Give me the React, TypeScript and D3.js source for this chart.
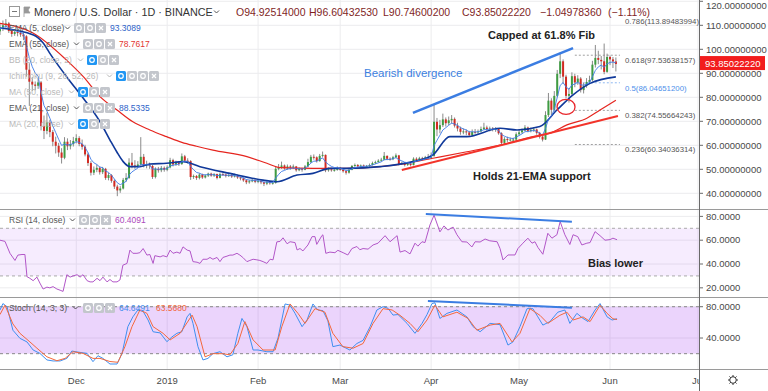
import React from "react";
import * as d3 from "d3";

// day 0 = 2018-11-05, one candle per day up to 2019-06-03
const START = Date.UTC(2018, 10, 5);
const DAY = 864e5;
const FIRST_OPEN = 107.5;

const closes = [
  108.5, 110.0, 110.8, 107.6, 106.4, 107.2, 106.8,
  106.2, 105.4, 91.5, 86.5, 85.3, 84.8, 86.2,
  68.0, 66.0, 69.5, 65.5, 61.5, 59.8, 57.0,
  54.8, 61.5, 59.6, 60.5, 61.8, 63.0, 60.6,
  59.4, 56.2, 52.6, 48.6, 49.8, 50.6, 48.8,
  50.2, 46.4, 47.6, 45.2, 42.8, 41.2, 42.0,
  45.6, 46.4, 52.8, 51.6, 51.4, 52.0, 55.2,
  51.6, 52.0, 51.4, 46.8, 50.2, 49.6, 50.6,
  49.8, 50.8, 53.8, 52.0, 52.8, 52.2, 55.4,
  53.6, 53.4, 46.8, 47.2, 46.4, 47.8, 46.6,
  47.4, 48.2, 47.4, 48.0, 46.4, 48.0, 47.8,
  47.2, 47.6, 47.0, 47.4, 46.6, 46.2, 45.4,
  44.6, 45.0, 45.4, 44.8, 45.2, 44.6, 44.0,
  44.6, 44.2, 44.4, 50.2, 50.8, 51.6, 50.4,
  51.2, 50.8, 51.2, 49.6, 50.2, 49.8, 51.2,
  53.0, 55.2, 55.0, 53.4, 55.6, 56.0, 49.6,
  50.0, 49.6, 49.8, 50.6, 49.8, 49.2, 48.6,
  49.8, 51.4, 51.8, 51.2, 51.6, 51.4, 51.4,
  51.8, 52.6, 53.0, 53.6, 54.0, 55.6, 54.4,
  54.2, 55.0, 55.8, 52.2, 52.6, 51.8, 52.4,
  51.8, 54.4, 53.8, 54.6, 54.4, 55.0, 54.8,
  55.6, 69.8, 66.6, 68.4, 70.8, 69.2, 70.4,
  71.0, 68.2, 67.0, 65.6, 65.8, 65.4, 64.2,
  65.6, 65.4, 65.8, 66.8, 67.4, 66.8, 67.0,
  66.6, 66.8, 65.0, 61.0, 62.6, 62.2, 62.4,
  62.4, 64.6, 65.4, 66.2, 67.4, 66.0, 66.4,
  66.6, 65.2, 63.6, 62.4, 72.6, 78.6, 74.8,
  80.6, 89.8, 95.0, 88.6, 80.6, 81.4, 88.8,
  86.2, 87.8, 83.0, 84.8, 86.4, 87.2, 93.6,
  96.4, 95.6, 95.0, 90.6, 96.8, 95.8, 94.93,
  93.85,
];

const highs = [
  111.0, 112.0, 112.6, 111.4, 108.6, 108.4, 108.2,
  107.9, 107.0, 105.9, 94.2, 88.4, 86.6, 87.8,
  86.8, 72.4, 73.6, 70.6, 66.4, 63.6, 61.0,
  58.8, 63.4, 62.9, 62.2, 63.5, 64.6, 63.8,
  62.4, 60.2, 57.0, 53.4, 51.2, 52.0, 51.2,
  51.0, 50.6, 48.6, 48.0, 45.8, 43.6, 43.0,
  46.4, 48.4, 54.6, 56.8, 53.8, 53.4, 63.4,
  56.4, 53.6, 52.8, 51.8, 50.8, 51.0, 51.4,
  51.2, 51.6, 54.8, 54.4, 53.6, 53.4, 56.6,
  56.0, 54.6, 53.8, 47.8, 47.6, 48.4, 48.2,
  47.9, 48.6, 48.6, 48.4, 48.2, 48.6, 48.8,
  48.2, 48.6, 48.0, 48.2, 47.8, 47.0, 46.6,
  45.8, 45.6, 46.2, 45.8, 45.6, 45.6, 44.8,
  45.2, 45.0, 45.0, 51.0, 52.2, 53.2, 52.0,
  52.0, 51.8, 52.0, 51.4, 50.8, 50.6, 51.8,
  54.4, 56.0, 56.2, 55.4, 56.4, 57.4, 56.2,
  50.8, 50.6, 50.4, 51.2, 51.0, 50.2, 49.6,
  50.4, 51.8, 52.4, 52.2, 52.0, 52.0, 51.8,
  52.4, 53.2, 53.6, 54.2, 54.8, 57.2, 55.8,
  55.0, 55.6, 56.6, 56.0, 53.2, 53.0, 53.0,
  52.8, 55.0, 55.0, 55.2, 55.2, 55.6, 56.4,
  57.0, 77.0, 71.4, 70.6, 73.2, 71.6, 72.0,
  72.6, 71.6, 69.4, 67.8, 67.0, 66.6, 66.0,
  66.6, 66.8, 66.6, 67.8, 69.4, 68.2, 67.8,
  67.6, 67.6, 67.2, 65.4, 63.4, 63.6, 63.2,
  63.2, 65.4, 66.4, 67.0, 68.4, 67.8, 67.4,
  67.6, 67.0, 65.6, 64.0, 74.2, 81.8, 79.6,
  82.6, 91.4, 98.6, 95.8, 89.4, 83.8, 90.4,
  89.8, 89.2, 88.4, 86.0, 88.0, 89.0, 95.2,
  101.8, 99.4, 97.2, 102.4, 98.2, 97.4, 96.8,
  96.6,
];

const lows = [
  106.0, 107.6, 108.9, 106.8, 105.2, 105.6, 105.4,
  105.2, 103.8, 88.6, 76.4, 82.6, 82.9, 83.5,
  66.2, 62.6, 64.6, 63.4, 59.6, 56.6, 55.2,
  52.4, 54.2, 58.0, 58.3, 59.5, 60.8, 59.6,
  58.2, 55.4, 51.4, 47.4, 47.6, 48.8, 47.8,
  48.0, 45.6, 45.4, 44.4, 41.8, 38.8, 40.2,
  41.6, 44.8, 46.0, 50.4, 50.2, 50.6, 51.6,
  50.8, 50.4, 50.2, 46.0, 46.2, 48.6, 48.8,
  49.0, 49.2, 50.4, 51.2, 51.4, 51.4, 51.8,
  53.0, 52.4, 45.6, 46.0, 45.6, 45.8, 46.0,
  46.2, 46.8, 46.9, 46.8, 45.8, 46.2, 47.2,
  46.6, 46.8, 46.4, 46.6, 46.0, 45.4, 44.8,
  43.8, 44.0, 44.6, 44.2, 44.2, 43.8, 43.0,
  43.4, 43.6, 43.6, 44.0, 49.6, 50.2, 49.8,
  49.8, 49.8, 50.2, 49.0, 49.2, 49.0, 49.6,
  50.8, 52.6, 54.0, 52.8, 53.2, 55.0, 48.8,
  49.0, 49.0, 49.0, 49.4, 49.4, 48.6, 47.8,
  48.2, 49.6, 51.0, 50.8, 50.8, 51.0, 50.8,
  51.0, 51.6, 52.2, 52.8, 53.2, 53.8, 53.8,
  53.6, 53.8, 54.6, 51.6, 51.8, 51.2, 51.4,
  51.2, 51.6, 53.2, 53.4, 53.8, 54.0, 54.2,
  54.6, 55.2, 63.8, 65.0, 67.6, 67.8, 68.4,
  69.0, 67.4, 65.8, 64.4, 64.6, 64.2, 63.6,
  63.8, 64.8, 64.6, 65.4, 66.4, 66.0, 65.8,
  65.8, 65.6, 64.4, 59.8, 60.4, 61.4, 61.6,
  61.4, 62.0, 64.0, 64.8, 65.8, 65.4, 65.4,
  65.6, 64.4, 62.8, 61.6, 62.2, 71.8, 72.6,
  74.2, 80.0, 88.0, 85.6, 79.6, 77.8, 80.8,
  84.2, 85.2, 82.0, 81.6, 84.0, 85.6, 86.6,
  92.4, 93.8, 91.6, 89.6, 90.2, 93.4, 92.2,
  90.75,
];

// [day, value] readings of the indicator lines
const ema21 = [
  [0, 108.9], [11.4, 106], [14.8, 102.5], [17, 98.3], [22.7, 88.6], [28.4, 79.6],
  [34.1, 69.8], [37.5, 62.2], [39.8, 57.3], [42, 53.2], [44.3, 51.1], [47.7, 51.1],
  [51.1, 52.2], [56.8, 52.5], [62.5, 53.2], [68.2, 51.1], [78.4, 48.3], [89.7, 45.5],
  [94.4, 44.8], [101.3, 47.6], [106.7, 48.3], [112.5, 50.4], [118.3, 50.4], [129.6, 51.1],
  [140.8, 53.2], [147.6, 56], [153.4, 63.6], [159.2, 63.6], [170.5, 67.1], [176.3, 66.4],
  [184.1, 67.8], [189.9, 74.7], [195.4, 81], [201.2, 85.8], [210, 88.5],
];

const ema55 = [
  [0, 110.8], [11.4, 106.7], [22.7, 95.5], [28.4, 88.6], [34.1, 80.3], [39.9, 74.7],
  [45.3, 69.8], [51.1, 66.4], [56.8, 63.6], [62, 61.2], [67, 59.6], [72.6, 58],
  [84.2, 55.3], [91, 52.5], [95.5, 50.7], [106.7, 50.4], [118.3, 50.4], [129.6, 51.1],
  [138, 52.4], [147.6, 54.6], [159.2, 57.3], [170.5, 60.1], [181.7, 63.6], [187.5, 65],
  [193.3, 68.5], [200.1, 71.3], [204.6, 74.7], [210, 78.8],
];

const rsi = [
  [0, 60], [1.7, 59], [3.4, 49], [5.1, 43], [6.1, 47.5], [7.5, 48], [8.5, 48], [9.2, 29.4],
  [10.2, 28], [11.3, 26], [12.6, 29], [13.6, 24], [14.7, 19], [16, 20.6], [17, 20], [18.1, 21],
  [19.4, 19], [20.5, 18], [21.5, 17], [22.8, 31], [23.9, 29], [24.9, 30], [26.3, 31], [27.3, 29],
  [28.3, 31], [29.7, 26], [30.7, 25], [31.7, 25], [33.1, 28], [34.1, 26], [35.1, 29], [36.5, 25],
  [37.5, 27], [38.5, 25], [39.9, 25], [40.9, 26.6], [41.9, 39], [43.3, 40.5], [44.3, 51.7],
  [45.3, 49], [46.7, 49], [47.7, 49.5], [48.8, 53], [50.1, 47.5], [51.1, 48], [52.2, 40.5],
  [52.8, 47], [54.6, 46], [55.6, 47], [56.9, 46], [58, 51.7], [59, 49], [60.3, 50], [61.4, 49],
  [62.4, 54.4], [63.8, 51.7], [64.8, 51], [65.8, 42], [67.2, 41.5], [68.2, 40.5], [69.2, 44],
  [70.6, 44], [71.6, 45.5], [72.6, 44], [74, 45.5], [75, 42], [76, 45.5], [77.4, 46.6],
  [78.4, 47.5], [79.4, 47.5], [80.8, 49], [81.8, 47.5], [82.8, 45.5], [84.2, 42], [85.2, 43],
  [86.3, 44], [87.6, 43.5], [88.6, 43], [89.7, 42], [91, 40.5], [92.1, 44], [93.1, 43.5],
  [94.4, 58.6], [95.5, 59], [96.5, 62], [97.9, 57], [98.9, 58.7], [100.6, 58], [101.3, 51.8],
  [102.3, 53], [103.3, 51], [105, 56], [106.4, 63], [107.4, 63], [108, 56.5], [109.8, 64],
  [110.1, 64.5], [111.1, 49], [112.5, 50], [114.2, 49.5], [115.2, 51.5], [117, 49.5],
  [118.6, 47.6], [120, 53], [121.7, 54.7], [122.7, 52], [123.8, 53], [125.5, 52.5], [127.2, 56],
  [128.9, 57.5], [131.3, 63.8], [133, 58.7], [135.4, 63.8], [136.4, 50], [138.1, 51.3],
  [139.8, 48.5], [141.5, 57.5], [142.5, 55], [143.9, 58.7], [144.9, 58], [146.6, 72.8], [148, 81],
  [150, 67], [151.4, 72], [152.7, 68.5], [154.5, 71], [155.8, 64.6], [157.5, 58.7], [159.2, 58.5],
  [160.9, 54.3], [162, 58.7], [163.7, 58.5], [165.4, 61], [167, 59.5], [169.5, 58.7], [170.5, 53],
  [171.5, 43.4], [173.2, 47.6], [175.6, 47.6], [176.6, 53], [178.3, 57.5], [180, 61.7],
  [181.4, 57.5], [182.4, 58.7], [183.4, 54], [185.1, 48.2], [186.8, 65.8], [188.2, 61.7],
  [189.9, 64.6], [191, 75.6], [192.6, 64.6], [194.3, 56.4], [195.4, 64.6], [197, 63], [198.4, 56],
  [200.1, 57.5], [201.2, 58], [202.9, 67.2], [204.6, 63.8], [206.3, 60], [208, 60.5], [209, 61.7],
  [210.4, 60.4],
];

const stochK = [
  [0, 75.8], [1, 84], [2.4, 80], [4.4, 50], [6.8, 39.6], [9.2, 35], [11.3, 24.7], [13.6, 20.4],
  [16, 12], [18.1, 10.7], [20.5, 10.7], [22.8, 14], [24.5, 23.4], [26.6, 22], [29.7, 20.4],
  [31.7, 9.8], [33.4, 17.4], [35.1, 14], [37.5, 6.8], [39.9, 6.8], [41.6, 20], [43.6, 54.5],
  [45.3, 67], [47, 75.8], [48.8, 74], [50.5, 63], [52.2, 48], [54.6, 46.5], [56.9, 35.3],
  [58.6, 41.3], [60.3, 46], [62, 48], [63.8, 67], [64.8, 71.5], [65.8, 58.7], [67.5, 29],
  [69.2, 12], [70.9, 14], [72.6, 20], [75, 22.5], [77.4, 16], [79.4, 18.6], [81.1, 46],
  [82.5, 65], [84.2, 54.5], [86.3, 24.7], [88, 24.7], [91, 22.5], [93.1, 22.5], [94.8, 40],
  [97.2, 83.5], [98.9, 82], [100.6, 71.5], [103, 54.5], [104.7, 63], [106.7, 83.5], [108.4, 75.8],
  [110.1, 75], [111.8, 62], [113.5, 29], [115.9, 31], [119.3, 24.7], [121.7, 33], [123.8, 37],
  [126.2, 54.5], [128.5, 75.8], [130.6, 80], [132.3, 78], [134, 69.3], [135.7, 70], [138.8, 58.7],
  [141.5, 46], [143.9, 58.7], [145.6, 70], [147.3, 84], [148.3, 85], [150, 65], [152.4, 71.5],
  [155.8, 75.8], [159.2, 67], [161.3, 54.5], [163.7, 48], [167.1, 58.7], [170.5, 57], [173.2, 31],
  [174.9, 35], [177.3, 54.5], [179.7, 77.5], [181.7, 77.5], [183.4, 67], [185.1, 56.5], [187.5, 61],
  [190.2, 73], [192.6, 75.8], [194.3, 58.7], [196.7, 71.5], [198.8, 65], [200.5, 61], [202.9, 75.8],
  [204.6, 84], [207, 67], [208.7, 63], [210.4, 64.6],
];

const stochD = [
  [0, 70], [1.7, 82], [4.4, 58], [6.8, 46], [10.2, 35], [12.6, 27], [16, 16], [19.4, 11],
  [22.2, 14], [24.9, 22.5], [28.3, 20.4], [31.7, 14], [34.1, 14], [37.5, 10], [40.2, 9],
  [42.6, 29], [45, 54.5], [47.7, 75.8], [50.1, 71.5], [52.2, 54.5], [55.6, 46], [58, 37.6],
  [61.4, 46], [65.5, 69.3], [67.2, 54.5], [69.9, 16], [72.6, 20], [75.7, 20], [78.4, 18.6],
  [81.1, 33], [83.5, 61], [86.3, 37.6], [89.7, 24.7], [93.8, 24.7], [96.1, 54.5], [98.9, 83.5],
  [101.6, 71.5], [104, 58.7], [107.4, 77.5], [110.8, 73], [113.5, 46], [116.9, 29], [120.4, 27],
  [123.8, 33], [127.2, 58.7], [130.6, 77.5], [133.7, 75.8], [136.4, 69], [139.8, 58.7], [142.5, 48],
  [145.6, 63], [148.3, 82], [151, 67], [155.8, 73], [159.6, 65], [162.6, 50], [167.1, 56.5],
  [170.5, 58.7], [174.6, 35], [177.3, 46], [180.7, 77.5], [184.1, 69], [186.8, 58.7], [190.9, 69],
  [193.3, 73], [195.4, 63], [198.8, 67], [201.2, 61], [204.6, 82], [207, 71.5], [209, 64.6],
  [210.4, 63.6],
];

const monthTicks = ["2018-12-01", "2019-01-01", "2019-02-01", "2019-03-01", "2019-04-01", "2019-05-01", "2019-06-01", "2019-07-01"];
const monthLabels = ["Dec", "2019", "Feb", "Mar", "Apr", "May", "Jun", "Jul"];
const priceTicks = [40, 50, 60, 70, 80, 90, 100, 110, 120];
const rsiTicks = [20, 40, 60, 80];
const stochTicks = [40, 80];

const fibLevels = ["0.786", "0.618", "0.5", "0.382", "0.236"];
const fibPrices = [113.89483994, 97.53638157, 86.04651200, 74.55664243, 60.34036314];

const lastPrice = 93.85022220;
const ohlc = ["O94.92514000", "H96.60432530", "L90.74600200", "C93.85022220", "\u22121.04978360", "(\u22121.11%)"];

const legendRows = [
  { name: "EMA (5, close)", value: "93.3089", color: "#2c62c8", faded: false, blue: false },
  { name: "EMA (55, close)", value: "78.7617", color: "#e3342f", faded: false, blue: false },
  { name: "BB (20, close, 2)", value: "", color: "", faded: true, blue: true },
  { name: "Ichimoku (9, 26, 52, 26)", value: "", color: "", faded: true, blue: true },
  { name: "MA (50, close)", value: "", color: "", faded: true, blue: true },
  { name: "EMA (21, close)", value: "88.5335", color: "#2c62c8", faded: false, blue: false },
  { name: "MA (20, close)", value: "", color: "", faded: true, blue: true },
];
const legendIconX = [74, 83, 87, 116, 78, 83, 78];

const FONT = "'Liberation Sans', Arial, sans-serif";
const PR = 699;
const MAIN = [0, 209];
const RSI = [209, 297];
const STO = [297, 369];

const toDate = (d: number) => new Date(START + d * DAY);

function Icons({ x, y, n, firstBlue }: { x: number; y: number; n: number; firstBlue: boolean }) {
  return (
    <g>
      {d3.range(n).map((i) => {
        const blue = firstBlue && i === 0;
        return (
          <g key={i}>
            <rect x={x + i * 11} y={y - 5} width={10} height={10} rx={1.5} fill={blue ? "#2196f3" : "#c3c6cc"} />
            {i === n - 1 ? (
              <path d={`M${x + i * 11 + 3},${y - 2}l4,4M${x + i * 11 + 7},${y - 2}l-4,4`} stroke="#fff" strokeWidth={1.2} />
            ) : (
              <circle cx={x + i * 11 + 5} cy={y} r={2.3} fill="none" stroke="#fff" strokeWidth={1.2} />
            )}
          </g>
        );
      })}
    </g>
  );
}

function Chevron({ x, y, color }: { x: number; y: number; color: string }) {
  return <path d={`M${x},${y - 1.5}l2.5,2.5l2.5,-2.5`} fill="none" stroke={color} strokeWidth={1} />;
}

export default function App() {
  const x = d3.scaleUtc().domain([new Date(START), new Date(Date.UTC(2019, 6, 1))]).range([0, 698]);
  const dx = (d: number) => x(toDate(d));
  const y = d3.scaleLinear().domain([33.46, 120.54]).range([MAIN[1], MAIN[0]]);
  const yr = d3.scaleLinear().domain([12.3, 86.2]).range([RSI[1], RSI[0]]);
  const ys = d3.scaleLinear().domain([0.43, 92.4]).range([STO[1], STO[0]]);

  let e = closes[0];
  const ema5 = closes.map((c, i) => (i === 0 ? c : (e = e + (2 / 6) * (c - e))));

  const smooth = (sc: d3.ScaleLinear<number, number>) =>
    d3.line<number[]>().x((p) => dx(p[0])).y((p) => sc(p[1])).curve(d3.curveMonotoneX);
  const jag = (sc: d3.ScaleLinear<number, number>) =>
    d3.line<number[]>().x((p) => dx(p[0])).y((p) => sc(p[1]));
  const ema5Line = d3.line<number>().x((_, i) => dx(i)).y((v) => y(v))(ema5);

  const months = monthTicks.map((m) => x(new Date(m + "T00:00:00Z")));
  const grid = "#ececee";
  const axisText = "#4a4a4a";

  // drawn annotations, anchored in (day, value)
  const blueTrend = [[140.8, 73.5], [195.4, 100.5]];
  const redTrend = [[137, 49.7], [210.7, 72.2]];
  const rsiTrend = [[145.2, 82], [195, 75.5]];
  const stochTrend = [[145.9, 87.3], [195, 78.7]];
  const circleAt = [193, 76];

  return (
    <svg width={768} height={391} style={{ position: "absolute", left: 0, top: 0, background: "#fff" }} fontFamily={FONT}>
      <defs>
        <clipPath id="cMain"><rect x={0} y={MAIN[0]} width={PR} height={MAIN[1] - MAIN[0]} /></clipPath>
        <clipPath id="cRsi"><rect x={0} y={RSI[0]} width={PR} height={RSI[1] - RSI[0]} /></clipPath>
        <clipPath id="cSto"><rect x={0} y={STO[0]} width={PR} height={STO[1] - STO[0]} /></clipPath>
        <clipPath id="cAxis"><rect x={0} y={369} width={PR} height={22} /></clipPath>
      </defs>

      {/* grid */}
      {months.map((mx, i) => (
        <line key={"vg" + i} x1={mx} x2={mx} y1={0} y2={369} stroke={grid} />
      ))}
      {priceTicks.map((t) => (
        <line key={"hg" + t} x1={0} x2={PR} y1={y(t)} y2={y(t)} stroke={grid} />
      ))}
      {rsiTicks.map((t) => (
        <line key={"rg" + t} x1={0} x2={PR} y1={yr(t)} y2={yr(t)} stroke={grid} />
      ))}
      {stochTicks.map((t) => (
        <line key={"sg" + t} x1={0} x2={PR} y1={ys(t)} y2={ys(t)} stroke={grid} />
      ))}

      {/* main pane */}
      <g clipPath="url(#cMain)">
        {fibLevels.map((lv, i) =>
          i === 0 ? null : (
            <line key={lv} x1={dx(196)} x2={dx(211.4)} y1={y(fibPrices[i])} y2={y(fibPrices[i])}
              stroke={lv === "0.5" ? "#8fb8f2" : "#a0a0a0"} strokeDasharray="2,2" />
          )
        )}
        {closes.map((c, i) => {
          const o = i === 0 ? FIRST_OPEN : closes[i - 1];
          const cx = dx(i);
          const up = c >= o;
          const top = y(Math.max(o, c));
          const h = Math.max(1, Math.abs(y(o) - y(c)));
          return (
            <g key={"c" + i}>
              <line x1={cx} x2={cx} y1={y(highs[i])} y2={y(lows[i])} stroke="#8a8a8a" />
              <rect x={cx - 1} y={top} width={2} height={h} fill={up ? "#3f9c42" : "#d22a22"} />
            </g>
          );
        })}
        <path d={smooth(y)(ema55) || ""} fill="none" stroke="#e5251f" strokeWidth={1.2} />
        <path d={smooth(y)(ema21) || ""} fill="none" stroke="#10399a" strokeWidth={1.6} />
        <path d={ema5Line || ""} fill="none" stroke="#3d7be6" strokeWidth={0.9} />
        <path d={jag(y)(redTrend) || ""} stroke="#f2332a" strokeWidth={2} />
        <path d={jag(y)(blueTrend) || ""} stroke="#3b7de2" strokeWidth={2.6} />
        <ellipse cx={dx(circleAt[0])} cy={y(circleAt[1])} rx={9} ry={7.5} fill="none" stroke="#e8262b" strokeWidth={1.3} />
      </g>
      {fibLevels.map((lv, i) => (
        <text key={"fl" + lv} x={625} y={y(fibPrices[i]) + 8} fontSize={7.8}
          fill={lv === "0.5" ? "#4d8fea" : "#555"}>{`${lv}(${fibPrices[i].toFixed(8)})`}</text>
      ))}
      <text x={541.5} y={39} fontSize={11} fontWeight="bold" textAnchor="middle" fill="#222">Capped at 61.8% Fib</text>
      <text x={364} y={77} fontSize={11.5} fill="#3d7fe0">Bearish divergence</text>
      <text x={473} y={180} fontSize={11} fontWeight="bold" fill="#222">Holds 21-EMA support</text>

      {/* RSI pane */}
      <g clipPath="url(#cRsi)">
        <rect x={0} y={yr(70)} width={PR} height={yr(30) - yr(70)} fill="#9c27f0" fillOpacity={0.09} />
        {[70, 30].map((t) => (
          <line key={"rb" + t} x1={0} x2={PR} y1={yr(t)} y2={yr(t)} stroke="#aaa" strokeDasharray="3,3" />
        ))}
        <path d={jag(yr)(rsi) || ""} fill="none" stroke="#b256c8" strokeWidth={1} />
        <path d={jag(yr)(rsiTrend) || ""} stroke="#3b7de2" strokeWidth={2} />
      </g>
      <text x={588} y={267} fontSize={11} fontWeight="bold" fill="#222">Bias lower</text>

      {/* Stoch pane */}
      <g clipPath="url(#cSto)">
        <rect x={0} y={ys(80)} width={PR} height={ys(20) - ys(80)} fill="#9c27f0" fillOpacity={0.2} />
        {[80, 20].map((t) => (
          <line key={"sb" + t} x1={0} x2={PR} y1={ys(t)} y2={ys(t)} stroke="#888" strokeDasharray="3,3" />
        ))}
        <path d={jag(ys)(stochK) || ""} fill="none" stroke="#3f8ff0" strokeWidth={1} />
        <path d={jag(ys)(stochD) || ""} fill="none" stroke="#f4683c" strokeWidth={1} />
        <path d={jag(ys)(stochTrend) || ""} stroke="#3b7de2" strokeWidth={2} />
      </g>

      {/* pane borders and right scale */}
      <line x1={0} x2={768} y1={209.5} y2={209.5} stroke="#9a9a9a" />
      <line x1={0} x2={768} y1={297.5} y2={297.5} stroke="#9a9a9a" />
      <line x1={0} x2={768} y1={369.5} y2={369.5} stroke="#9a9a9a" />
      <line x1={PR + 0.5} x2={PR + 0.5} y1={0} y2={391} stroke="#6a6a6a" />

      {priceTicks.map((t) => (
        <g key={"pt" + t}>
          <line x1={PR} x2={PR + 4} y1={y(t)} y2={y(t)} stroke="#6a6a6a" />
          <text x={706} y={Math.max(y(t) + 3.3, 9)} fontSize={9.5} fill={axisText}>{t.toFixed(8)}</text>
        </g>
      ))}
      {rsiTicks.map((t) => (
        <g key={"rt" + t}>
          <line x1={PR} x2={PR + 4} y1={yr(t)} y2={yr(t)} stroke="#6a6a6a" />
          <text x={706} y={yr(t) + 3.3} fontSize={9.5} fill={axisText}>{t.toFixed(4)}</text>
        </g>
      ))}
      {stochTicks.map((t) => (
        <g key={"st" + t}>
          <line x1={PR} x2={PR + 4} y1={ys(t)} y2={ys(t)} stroke="#6a6a6a" />
          <text x={706} y={ys(t) + 3.3} fontSize={9.5} fill={axisText}>{t.toFixed(4)}</text>
        </g>
      ))}
      <rect x={700} y={y(lastPrice) - 8} width={65} height={14} fill="#f21d1d" />
      <text x={705} y={y(lastPrice) + 2.5} fontSize={9.5} fill="#fff">{lastPrice.toFixed(8)}</text>

      {/* time axis */}
      <g clipPath="url(#cAxis)">
        {months.map((mx, i) => (
          <text key={"ml" + i} x={mx} y={384} fontSize={9.5} textAnchor="middle" fill={axisText}>{monthLabels[i]}</text>
        ))}
      </g>
      <g transform="translate(733,380)" stroke="#333" fill="none" strokeWidth={1}>
        <circle r={3.3} />
        {d3.range(8).map((i) => {
          const a = (i * Math.PI) / 4;
          return <line key={i} x1={Math.cos(a) * 3.3} y1={Math.sin(a) * 3.3} x2={Math.cos(a) * 5} y2={Math.sin(a) * 5} />;
        })}
      </g>

      {/* legends */}
      <rect x={9.5} y={6.5} width={10} height={10} fill="none" stroke="#999" />
      <line x1={12} x2={17} y1={11.5} y2={11.5} stroke="#777" />
      <path d="M24,7v10M24,7h6l-2,3l2,3h-6" fill="#999" stroke="#999" strokeWidth={0.8} />
      <text x={34} y={15.5} fontSize={10.8} fill="#333">Monero / U.S. Dollar · 1D · BINANCE</text>
      <Chevron x={214} y={12} color="#555" />
      {ohlc.map((s, i) => (
        <text key={"o" + i} x={[236, 309, 383, 462, 540, 608][i]} y={15.5} fontSize={10.5} fill="#7f1f1f">{s}</text>
      ))}

      {legendRows.map((r, i) => {
        const ry = 28 + i * 16;
        const ix = legendIconX[i];
        const n = r.name.startsWith("Ichimoku") ? 4 : 3;
        const tc = r.faded ? "#b9b9b9" : "#555";
        return (
          <g key={"lg" + i}>
            <text x={9} y={ry + 3} fontSize={8.5} fill={tc}>{r.name}</text>
            <Chevron x={ix - 9} y={ry} color={tc} />
            <Icons x={ix} y={ry} n={n} firstBlue={r.blue} />
            {r.value && <text x={ix + n * 11 + 3} y={ry + 3} fontSize={8.5} fill={r.color}>{r.value}</text>}
          </g>
        );
      })}

      <text x={9} y={223} fontSize={8.5} fill="#555">RSI (14, close)</text>
      <Chevron x={70} y={220} color="#555" />
      <Icons x={79} y={220} n={3} firstBlue={false} />
      <text x={115} y={223} fontSize={8.5} fill="#ab47bc">60.4091</text>

      <text x={9} y={311} fontSize={8.5} fill="#555">Stoch (14, 3, 3)</text>
      <Chevron x={73} y={308} color="#555" />
      <Icons x={83} y={308} n={3} firstBlue={false} />
      <text x={119} y={311} fontSize={8.5} fill="#3f8ff0">64.6491</text>
      <text x={156} y={311} fontSize={8.5} fill="#f4683c">63.5680</text>
    </svg>
  );
}
